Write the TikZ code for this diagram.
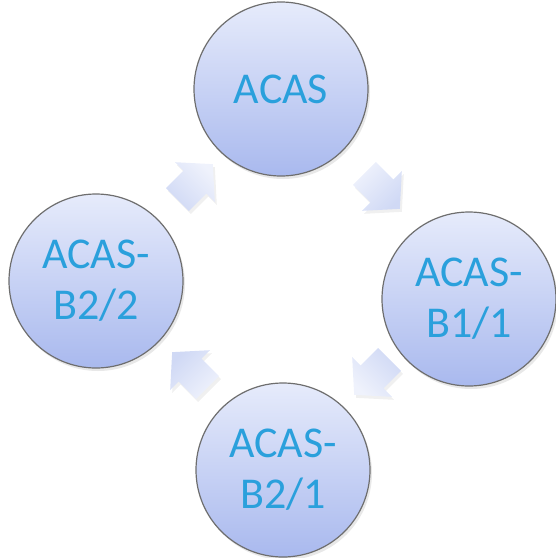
\documentclass[tikz,border=0pt]{standalone}
\usepackage{fontspec}
\setmainfont{Carlito}
\usetikzlibrary{shapes.arrows}
\usetikzlibrary{shadows}
\definecolor{acasblue}{HTML}{2AA0DC}
\definecolor{ringtop}{HTML}{E6EBFB}
\definecolor{ringbot}{HTML}{A9B9EE}
\definecolor{ringline}{HTML}{6E6E6E}
\definecolor{flowtop}{HTML}{EFF2FC}
\definecolor{flowbot}{HTML}{D0D9F5}

\begin{document}
\begin{tikzpicture}[x=1pt,y=-1pt,
  stage/.style={circle,draw=ringline,line width=1.2pt,top color=ringtop,bottom color=ringbot,
    minimum size=174pt,inner sep=0pt,align=center,text=acasblue,
    font=\fontsize{44}{51}\selectfont,
    drop shadow={opacity=0.18,shadow xshift=2pt,shadow yshift=-3pt}},
  flow/.style={single arrow,draw=none,top color=flowtop,bottom color=flowbot,
    inner xsep=0pt,inner ysep=16pt,minimum height=50pt,single arrow head extend=12pt,
    single arrow tip angle=96,rotate=#1,shading angle={0-#1},
    drop shadow={opacity=0.12,shadow xshift=2pt,shadow yshift=-3pt}}]
  \useasboundingbox (0,0) rectangle (556,558);
  % the four stages
  \node[stage] (acas) at (281,89) {ACAS};
  \node[stage] (b11) at (469,299) {ACAS-\\B1/1};
  \node[stage] (b21) at (283,470) {ACAS-\\B2/1};
  \node[stage] (b22) at (96,281) {ACAS-\\B2/2};
  % arrows between them
  \node[flow=45] (f1) at (190,187) {};
  \node[flow=315] (f2) at (377,186) {};
  \node[flow=225] (f3) at (377,372) {};
  \node[flow=135] (f4) at (195,375) {};
\end{tikzpicture}
\end{document}
